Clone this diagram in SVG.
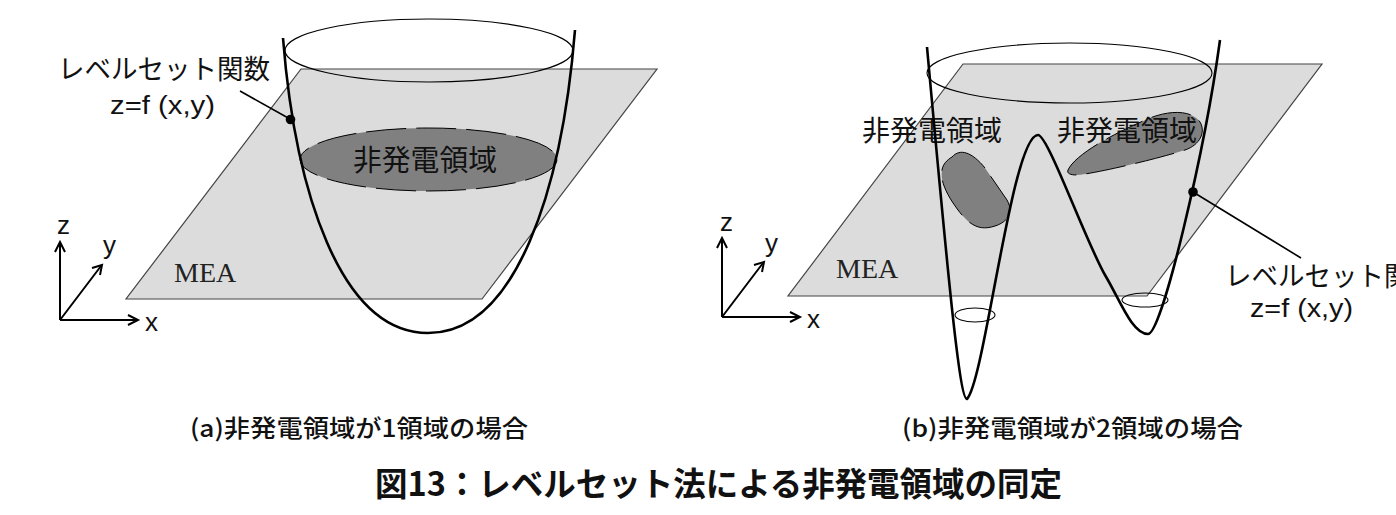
<svg xmlns="http://www.w3.org/2000/svg" width="1396" height="515" viewBox="0 0 1396 515">
<style>
.plane{fill:#dcdcdc;stroke:#444;stroke-width:1.2}
.rim{fill:none;stroke:#000;stroke-width:1.1}
.curve{fill:none;stroke:#000;stroke-width:2.6;stroke-linejoin:round}
.region{fill:#808080;stroke:#000;stroke-width:1;stroke-dasharray:40 10}
.axis{fill:none;stroke:#000;stroke-width:2}
.lead{fill:none;stroke:#000;stroke-width:1.6}
.jp{font-family:"Noto Sans CJK JP","Noto Sans CJK SC",sans-serif;fill:#111}
.lat{font-family:"Liberation Sans",Arial,sans-serif;fill:#111}
.mea{font-family:"Liberation Serif","Times New Roman",serif;font-size:28px;fill:#222}
</style>
<g id="panel-a">
  <polygon class="plane" points="301,69 657,69 482,299 126,299"/>
  <ellipse class="rim" cx="429" cy="50.5" rx="144" ry="31.5"/>
  <g id="region-a">
    <ellipse class="region" cx="428.5" cy="159.5" rx="128.5" ry="31.5"/>
    <text class="jp" x="425" y="171" font-size="29" text-anchor="middle" textLength="144" lengthAdjust="spacingAndGlyphs">非発電領域</text>
  </g>
  <path id="levelset-a" class="curve" d="M283,38 C295,190 340,333 428,333 C516,333 562,190 575,30"/>
  <text class="mea" x="174" y="282">MEA</text>
  <g id="label-a">
    <text class="jp" x="58" y="79" font-size="27" textLength="212" lengthAdjust="spacingAndGlyphs">レベルセット関数</text>
    <text class="lat" x="110" y="114" font-size="26" textLength="105" lengthAdjust="spacingAndGlyphs">z=f  (x,y)</text>
    <line class="lead" x1="240" y1="91" x2="290" y2="119"/>
    <circle cx="290.5" cy="119.5" r="4.8" fill="#000"/>
  </g>
  <g id="axes-a">
    <path class="axis" d="M60,320 V243 M60,320 H137 M60,320 L101,266"/>
    <path class="axis" d="M55,252 L60,242 L65,252 M128,315 L138,320 L128,325 M92,268 L102,265 L100,275"/>
    <text class="lat" x="57" y="234" font-size="26">z</text>
    <text class="lat" x="103" y="254" font-size="26">y</text>
    <text class="lat" x="145" y="331" font-size="26">x</text>
  </g>
</g>
<g id="panel-b">
  <polygon class="plane" points="963,64 1322,64 1147,296 788,296"/>
  <ellipse class="rim" cx="1069.5" cy="73" rx="142.5" ry="30"/>
  <path id="region-b1" class="region" d="M952,157 C960,148 972,152 985,168 L1007,200 C1014,212 1008,222 995,226 C980,231 970,226 958,210 C946,194 940,180 942,170 C943,164 947,160 952,157 Z"/>
  <path id="region-b2" class="region" d="M1068,170 C1075,155 1110,135 1150,118 C1170,110 1192,110 1200,122 C1206,132 1200,145 1185,150 C1160,158 1110,170 1085,174 C1075,176 1066,175 1068,170 Z"/>
  <text class="jp" x="862" y="141" font-size="28" textLength="140" lengthAdjust="spacingAndGlyphs">非発電領域</text>
  <text class="jp" x="1057" y="141" font-size="28" textLength="140" lengthAdjust="spacingAndGlyphs">非発電領域</text>
  <ellipse class="rim" cx="975" cy="315" rx="20" ry="7"/>
  <ellipse class="rim" cx="1145" cy="300" rx="23" ry="7"/>
  <path id="levelset-b" class="curve" d="M927,47 C950,300 960,399 967,399 C985,380 1012,135 1038,135 C1048,135 1085,240 1105,275 C1120,300 1132,334 1148,334 C1162,334 1205,150 1220,40"/>
  <text class="mea" x="836" y="278">MEA</text>
  <g id="label-b">
    <line class="lead" x1="1193" y1="192" x2="1301" y2="258"/>
    <circle cx="1193" cy="192" r="4.8" fill="#000"/>
    <text class="jp" x="1225" y="286" font-size="27" textLength="212" lengthAdjust="spacingAndGlyphs">レベルセット関数</text>
    <text class="lat" x="1250" y="317" font-size="26" textLength="103" lengthAdjust="spacingAndGlyphs">z=f  (x,y)</text>
  </g>
  <g id="axes-b">
    <path class="axis" d="M722,317 V239 M722,317 H799 M722,317 L763,263"/>
    <path class="axis" d="M717,248 L722,238 L727,248 M790,312 L800,317 L790,322 M754,265 L764,262 L762,272"/>
    <text class="lat" x="720" y="231" font-size="26">z</text>
    <text class="lat" x="765" y="252" font-size="26">y</text>
    <text class="lat" x="807" y="328" font-size="26">x</text>
  </g>
</g>
<g id="captions">
  <text class="jp" x="190" y="437" font-size="24" font-weight="500" textLength="338" lengthAdjust="spacingAndGlyphs">(a)非発電領域が1領域の場合</text>
  <text class="jp" x="902" y="437" font-size="24" font-weight="500" textLength="341" lengthAdjust="spacingAndGlyphs">(b)非発電領域が2領域の場合</text>
  <text class="jp" x="375" y="496" font-size="33" font-weight="bold" textLength="687" lengthAdjust="spacingAndGlyphs">図13：レベルセット法による非発電領域の同定</text>
</g>
</svg>
